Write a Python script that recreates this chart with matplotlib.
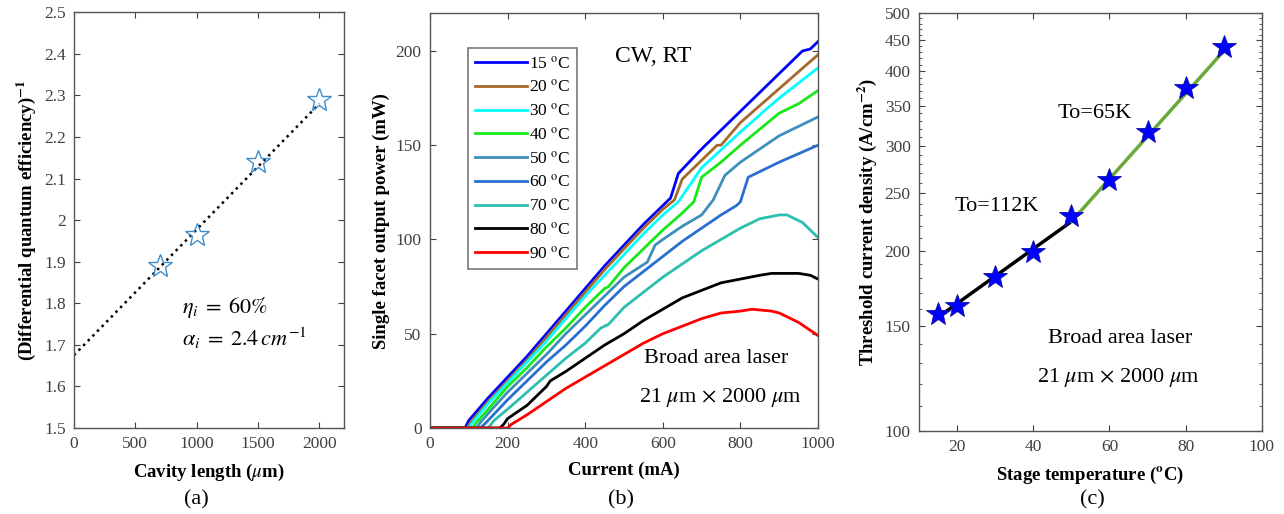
import numpy as np
import matplotlib
matplotlib.use('Agg')
import matplotlib.pyplot as plt
from matplotlib.ticker import FixedLocator, NullFormatter

plt.rcParams['font.family'] = ['Liberation Serif', 'DejaVu Serif']
plt.rcParams['mathtext.fontset'] = 'stix'

# (a) inverse differential quantum efficiency vs cavity length
cavity_len = [700, 1000, 1500, 2000]
inv_eff = [1.89, 1.965, 2.14, 2.29]
fit_a_x = [0, 2000]
fit_a_y = [1.675, 2.28]

# (b) L-I curves
temps_b = ['15', '20', '30', '40', '50', '60', '70', '80', '90']
colors_b = ['#0000ff', '#a5692e', '#00ffff', '#18e818', '#3f8fbb',
            '#2a6fd0', '#2bbfae', '#000000', '#ff0000']
li_curves = {
    '15': ([0, 90, 100, 150, 200, 250, 300, 350, 400, 450, 500, 550, 600, 620, 640, 700, 750, 800, 850, 900, 960, 980, 1000],
           [0, 0, 4, 16, 27, 38, 50, 62, 74, 86, 97, 108, 118, 122, 135, 148, 158, 168, 178, 188, 200, 201, 205]),
    '20': ([0, 95, 105, 150, 200, 250, 300, 350, 400, 450, 500, 550, 600, 630, 650, 700, 740, 750, 800, 900, 1000],
           [0, 0, 3, 14, 25, 36, 48, 60, 72, 84, 95, 106, 116, 121, 132, 142, 150, 150, 162, 180, 198]),
    '30': ([0, 100, 110, 150, 200, 250, 300, 350, 400, 450, 500, 550, 600, 640, 660, 700, 800, 850, 860, 900, 1000],
           [0, 0, 3, 13, 24, 35, 46, 58, 70, 81, 92, 103, 113, 120, 126, 138, 157, 166, 168, 175, 191]),
    '40': ([0, 110, 120, 150, 200, 250, 300, 350, 400, 450, 460, 500, 550, 600, 650, 680, 700, 750, 800, 900, 950, 1000],
           [0, 0, 3, 10, 22, 32, 43, 53, 64, 74, 75, 85, 95, 105, 114, 120, 133, 141, 150, 167, 172, 179]),
    '50': ([0, 120, 130, 160, 200, 250, 300, 350, 400, 450, 500, 560, 580, 600, 650, 700, 730, 760, 800, 900, 1000],
           [0, 0, 3, 10, 19, 29, 39, 50, 60, 70, 80, 88, 97, 100, 107, 113, 121, 134, 141, 155, 165]),
    '60': ([0, 130, 145, 200, 250, 300, 350, 400, 450, 500, 550, 600, 650, 700, 750, 790, 800, 820, 900, 1000],
           [0, 0, 3, 15, 25, 35, 44, 54, 65, 75, 83, 91, 99, 106, 113, 118, 120, 133, 141, 150]),
    '70': ([0, 150, 165, 200, 250, 300, 350, 400, 440, 460, 500, 550, 600, 650, 700, 750, 800, 850, 900, 920, 960, 1000],
           [0, 0, 4, 10, 19, 28, 37, 45, 53, 55, 64, 72, 80, 87, 94, 100, 106, 111, 113, 113, 109, 101]),
    '80': ([0, 180, 190, 200, 250, 300, 310, 350, 400, 450, 500, 550, 600, 650, 700, 750, 800, 850, 880, 950, 980, 1000],
           [0, 0, 2, 5, 12, 22, 25, 30, 37, 44, 50, 57, 63, 69, 73, 77, 79, 81, 82, 82, 81, 79]),
    '90': ([0, 200, 210, 250, 300, 350, 400, 450, 500, 550, 600, 650, 700, 750, 800, 830, 880, 900, 950, 1000],
           [0, 0, 2, 7, 14, 21, 27, 33, 39, 45, 50, 54, 58, 61, 62, 63, 62, 61, 56, 49]),
}

# (c) threshold current density vs stage temperature
stage_temp = [15, 20, 30, 40, 50, 60, 70, 80, 90]
jth = [157, 162, 181, 199, 229, 263, 316, 375, 438]
fit_low_x = [15, 50]
fit_low_y = [155, 224]
fit_high_x = [50, 90]
fit_high_y = [224, 432]

tick_col = '#404040'
lab_fs = 13.5
txt_fs = 16


def style_axes(ax):
    ax.tick_params(direction='in', top=True, right=True, labelsize=12.5,
                   labelcolor=tick_col, color=tick_col, length=4, pad=6)
    ax.tick_params(which='minor', direction='in', top=True, right=True,
                   color=tick_col, length=2.5)
    for s in ax.spines.values():
        s.set_color('#555555')
        s.set_linewidth(1.0)


fig = plt.figure(figsize=(12.84, 5.14), dpi=100)

# ---- panel (a)
ax1 = fig.add_axes([0.0576, 0.1673, 0.2103, 0.809])
ax1.plot(fit_a_x, fit_a_y, linestyle=':', color='black', linewidth=1.8)
ax1.plot(cavity_len, inv_eff, linestyle='none', marker='*', markersize=18,
         markerfacecolor='none', markeredgecolor='#3d8fd1', markeredgewidth=1.0)
ax1.set_xlim(0, 2200)
ax1.set_ylim(1.5, 2.5)
ax1.set_xticks([0, 500, 1000, 1500, 2000])
yt = np.round(np.arange(1.5, 2.51, 0.1), 1)
ax1.set_yticks(yt)
ax1.set_yticklabels(['%g' % v for v in yt])
style_axes(ax1)
ax1.set_xlabel(r'Cavity length ($\mu$m)', fontsize=lab_fs, fontweight='bold', labelpad=7)
ax1.set_ylabel(r'(Differential quantum efficiency)$^{\mathbf{-1}}$', fontsize=lab_fs,
               fontweight='bold', labelpad=4)
ax1.text(880, 1.79, r'$\eta_i\;=\;60\%$', fontsize=16, va='center')
ax1.text(880, 1.715, r'$\alpha_i\;=\;2.4\,cm^{-1}$', fontsize=16, va='center')

# ---- panel (b)
ax2 = fig.add_axes([0.3349, 0.1673, 0.3022, 0.807])
for t, c in zip(temps_b, colors_b):
    xs, ys = li_curves[t]
    ax2.plot(xs, ys, color=c, linewidth=2.0, label=t + r' $^{\mathrm{o}}$C')
ax2.set_xlim(0, 1000)
ax2.set_ylim(0, 220)
ax2.set_xticks([0, 200, 400, 600, 800, 1000])
ax2.set_yticks([0, 50, 100, 150, 200])
style_axes(ax2)
ax2.set_xlabel('Current (mA)', fontsize=lab_fs, fontweight='bold', labelpad=7)
ax2.set_ylabel('Single facet output power (mW)', fontsize=lab_fs, fontweight='bold', labelpad=4)
leg = ax2.legend(loc='upper left', bbox_to_anchor=(0.098, 0.915), fontsize=12.5,
                 frameon=True, fancybox=False, edgecolor='#555555', handlelength=3.0,
                 handletextpad=0.1, labelspacing=0.4, borderpad=0.4,
                 borderaxespad=0)
leg.get_frame().set_linewidth(1.2)
ax2.text(478, 197, 'CW, RT', fontsize=17, va='center')
ax2.text(552, 37, 'Broad area laser', fontsize=txt_fs, va='center')
ax2.text(539, 16, r'21 $\mu$m $\times$ 2000 $\mu$m', fontsize=txt_fs, va='center')

# ---- panel (c)
ax3 = fig.add_axes([0.7157, 0.1615, 0.267, 0.813])
ax3.plot(fit_low_x, fit_low_y, color='black', linewidth=2.5)
ax3.plot(fit_high_x, fit_high_y, color='#6aaa3a', linewidth=2.5)
ax3.plot(stage_temp, jth, linestyle='none', marker='*', markersize=18,
         markerfacecolor='#0000ff', markeredgecolor='#1010a0', markeredgewidth=0.6)
ax3.set_yscale('log')
ax3.set_xlim(10, 100)
ax3.set_ylim(100, 500)
ax3.set_xticks([20, 40, 60, 80, 100])
ymaj = [100, 150, 200, 250, 300, 350, 400, 450, 500]
ax3.yaxis.set_major_locator(FixedLocator(ymaj))
ax3.set_yticklabels([str(v) for v in ymaj])
ymin = [v for v in range(110, 500, 10) if v not in ymaj]
ax3.yaxis.set_minor_locator(FixedLocator(ymin))
ax3.yaxis.set_minor_formatter(NullFormatter())
style_axes(ax3)
ax3.set_xlabel(r'Stage temperature ($\mathbf{^o}$C)', fontsize=lab_fs, fontweight='bold', labelpad=7)
ax3.set_ylabel(r'Threshold current density (A/cm$^{\mathbf{-2}}$)', fontsize=lab_fs,
               fontweight='bold', labelpad=4)
ax3.text(46.5, 340, 'To=65K', fontsize=txt_fs, va='center')
ax3.text(19.4, 237, 'To=112K', fontsize=txt_fs, va='center')
ax3.text(43.9, 143, 'Broad area laser', fontsize=txt_fs, va='center')
ax3.text(41, 123, r'21 $\mu$m $\times$ 2000 $\mu$m', fontsize=txt_fs, va='center')

# panel letters
for xc, s in [(0.153, '(a)'), (0.484, '(b)'), (0.851, '(c)')]:
    fig.text(xc, 0.027, s, fontsize=16, ha='center', va='center')

fig.savefig('out.png', dpi=100)
